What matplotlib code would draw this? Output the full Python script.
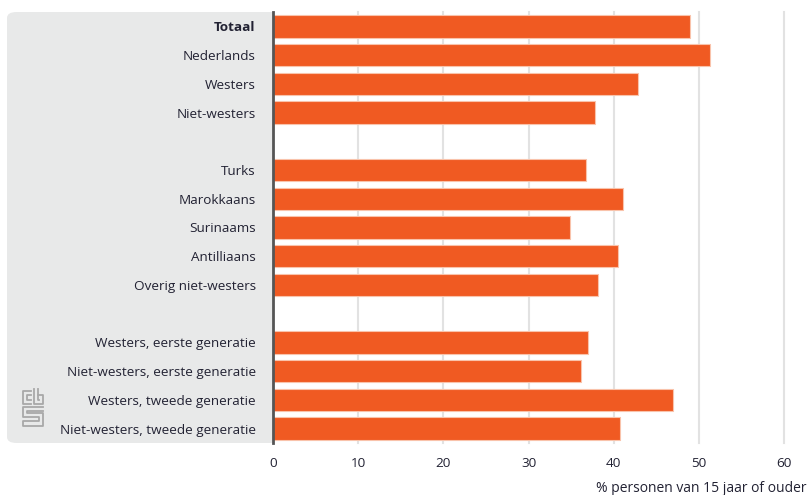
import matplotlib
matplotlib.use("Agg")
import matplotlib.pyplot as plt
from matplotlib.patches import FancyBboxPatch
from matplotlib.lines import Line2D

categories = ["Totaal", "Nederlands", "Westers", "Niet-westers", "",
              "Turks", "Marokkaans", "Surinaams", "Antilliaans", "Overig niet-westers", "",
              "Westers, eerste generatie", "Niet-westers, eerste generatie",
              "Westers, tweede generatie", "Niet-westers, tweede generatie"]
values = [49.0, 51.3, 42.8, 37.8, None,
          36.8, 41.1, 34.9, 40.5, 38.2, None,
          37.0, 36.2, 47.0, 40.8]
xticks = [0, 10, 20, 30, 40, 50, 60]
xlabel = "% personen van 15 jaar of ouder"

W, H = 808, 495
fig = plt.figure(figsize=(W / 100, H / 100), dpi=100)
plt.rcParams['font.family'] = ['Open Sans', 'DejaVu Sans']
FS = 9.7
TC = "#222233"

left, right, top, bottom = 273, 784, 12, 443
ax = fig.add_axes([left / W, 1 - bottom / H, (right - left) / W, (bottom - top) / H])

# gray label panel
panel = FancyBboxPatch((7 / W, 1 - bottom / H), (290 - 7) / W, (bottom - top) / H,
                       boxstyle="round,pad=0,rounding_size=0.012",
                       transform=fig.transFigure, facecolor="#e8e9e9",
                       edgecolor="none", zorder=-1)
fig.patches.append(panel)

ys = list(range(len(categories)))
for y, v in zip(ys, values):
    if v is None:
        continue
    ax.barh(y, v, height=0.78, color="#f05a22", edgecolor="#f9c3ab", linewidth=0.8, zorder=3)

ax.set_ylim(len(categories) - 0.5, -0.5)
ax.set_xlim(0, 60)
ax.set_yticks([y for y, c in zip(ys, categories) if c])
ax.set_yticklabels([c for c in categories if c])
ax.tick_params(axis="y", length=0, pad=12.5, labelsize=FS, labelcolor=TC)
ax.tick_params(axis="x", length=0, pad=10, labelsize=FS, labelcolor=TC)
for lab in ax.get_yticklabels():
    if lab.get_text() == "Totaal":
        lab.set_fontweight("bold")
ax.set_xticks(xticks)
ax.set_xticklabels([str(t) for t in xticks])
for t in xticks[1:]:
    ax.axvline(t, color="#e2e2e2", lw=1.5, zorder=1, clip_on=False)
for s in ["top", "right", "bottom"]:
    ax.spines[s].set_visible(False)
ax.spines["left"].set_color("#555555")
ax.spines["left"].set_linewidth(2)
ax.spines["left"].set_zorder(4)

fig.text(806 / W, 1 - 489 / H, xlabel, ha="right", va="center", fontsize=FS + 0.3, color=TC)

# CBS logo (approximate)
def px(x, y):
    return x / W, 1 - y / H
lc = "#a8a8a8"
segs = [
    # c
    [(31, 391), (23, 391), (23, 404), (31, 404)],
    [(31, 395), (27, 395), (27, 400), (31, 400)],
    # b
    [(34, 389), (34, 404), (43, 404), (43, 395), (38, 395)],
    [(38, 389), (38, 400), (39, 400)],
    # s
    [(43, 407), (23, 407), (23, 417), (39, 417), (39, 421), (23, 421), (23, 426), (43, 426), (43, 413), (27, 413), (27, 411), (43, 411)],
]
for s in segs:
    xs, ys_ = zip(*[px(a, b) for a, b in s])
    fig.add_artist(Line2D(xs, ys_, color=lc, lw=1.3, transform=fig.transFigure))

fig.savefig("out.png", dpi=100)
